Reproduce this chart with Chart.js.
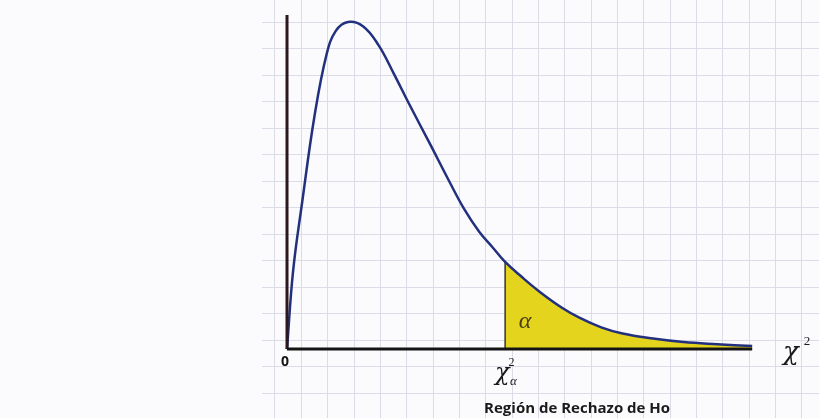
<!DOCTYPE html>
<html>
<head>
<meta charset="utf-8">
<script src="https://cdn.jsdelivr.net/npm/chart.js@4.4.1/dist/chart.umd.min.js"></script>
<style>
    html, body { margin: 0; padding: 0; background: #fbfbfd; }
    #wrap { width: 819px; height: 418px; }
</style>
</head>
<body>
<div id="wrap"><canvas id="chart" width="819" height="418"></canvas></div>
<script>
// chi-square curve (x = chi2 value, y = density)
const chiValues = [0, 0.2, 0.5, 0.9, 1.3, 1.6, 2.0, 2.5, 3.0, 3.5, 4.0, 4.7, 5.3, 5.8, 6.3, 6.75,
    7.15, 7.7, 8.3, 9.0, 9.6, 10.3, 11.0, 12.0, 13.0, 14.1, 15.25];
const density = [0, 0.044, 0.083, 0.131, 0.166, 0.179, 0.184, 0.1815, 0.171, 0.155, 0.138, 0.115, 0.095, 0.079, 0.066, 0.057,
    0.049, 0.0405, 0.032, 0.0234, 0.0175, 0.0122, 0.0087, 0.0059, 0.0039, 0.0027, 0.0017];
const criticalValue = 7.15;
const criticalDensity = 0.049;
const yAxisTop = 0.188;
const xAxisEnd = 15.25;

const curve = chiValues.map((x, i) => ({ x: x, y: density[i] }));
const rejection = curve.filter(p => p.x >= criticalValue);

// text labels, placed in data coordinates
const labels = [
    { text: '0', x: -0.066, y: -0.0073, font: 'bold 14px "Open Sans"', color: '#151515', base: 'middle' },
    { text: 'χ', x: 7.06, y: -0.0174, font: 'italic 24px "DejaVu Serif"', color: '#1a1a1a', base: 'alphabetic' },
    { text: '2', x: 7.36, y: -0.0093, font: '12px "Liberation Serif"', color: '#1a1a1a', base: 'alphabetic' },
    { text: 'α', x: 7.42, y: -0.0203, font: 'italic 13px "Liberation Serif"', color: '#1a1a1a', base: 'alphabetic' },
    { text: 'α', x: 7.80, y: 0.0118, font: 'italic 24px "Liberation Serif"', color: '#4a3f12', base: 'alphabetic' },
    { text: 'χ', x: 16.52, y: -0.0062, font: 'italic 26px "DejaVu Serif"', color: '#1a1a1a', base: 'alphabetic' },
    { text: '2', x: 17.05, y: 0.0022, font: '13px "Liberation Serif"', color: '#1a1a1a', base: 'alphabetic' },
    { text: 'Región de Rechazo de Ho', x: 9.51, y: -0.0338, font: 'bold 15px "Open Sans"', color: '#1a1a1a', base: 'middle' }
];

const textPlugin = {
    id: 'texts',
    afterDatasetsDraw(chart) {
        const ctx = chart.ctx;
        const sx = chart.scales.x, sy = chart.scales.y;
        ctx.save();
        ctx.textAlign = 'center';
        labels.forEach(l => {
            ctx.font = l.font;
            ctx.fillStyle = l.color;
            ctx.textBaseline = l.base;
            ctx.fillText(l.text, sx.getPixelForValue(l.x), sy.getPixelForValue(l.y));
        });
        ctx.restore();
    }
};

const gridStyle = { color: '#dcdce6', lineWidth: 1, drawTicks: false };

new Chart(document.getElementById('chart'), {
    type: 'line',
    data: {
        datasets: [
            { data: [{ x: 0, y: 0 }, { x: xAxisEnd, y: 0 }], borderColor: '#141414', borderWidth: 3, pointRadius: 0 },
            { data: [{ x: 0, y: 0 }, { x: 0, y: yAxisTop }], borderColor: '#2c1818', borderWidth: 3, pointRadius: 0 },
            { data: curve, borderColor: '#22307e', borderWidth: 2.5, pointRadius: 0, tension: 0.4 },
            { data: [{ x: criticalValue, y: 0 }, { x: criticalValue, y: criticalDensity }], borderColor: '#333', borderWidth: 1.5, pointRadius: 0 },
            { data: rejection, borderWidth: 0, pointRadius: 0, tension: 0.4,
              fill: 'origin', backgroundColor: '#e4d41e' }
        ]
    },
    options: {
        responsive: false,
        animation: false,
        events: [],
        layout: { padding: { left: 262, right: 0, top: 0, bottom: 0 } },
        plugins: { legend: { display: false }, tooltip: { enabled: false } },
        scales: {
            x: { type: 'linear', min: -0.82, max: 17.44, display: false },
            y: { type: 'linear', min: -0.0388, max: 0.1964, display: false },
            gx: {
                type: 'linear', axis: 'x', position: 'bottom', min: -0.493, max: 20.65,
                ticks: { display: false, stepSize: 1, includeBounds: false },
                grid: gridStyle, border: { display: false }
            },
            gy: {
                type: 'linear', axis: 'y', position: 'left', reverse: true, min: -5.849, max: 9.925,
                ticks: { display: false, stepSize: 1, includeBounds: false },
                grid: gridStyle, border: { display: false }
            }
        }
    },
    plugins: [textPlugin]
});
</script>
</body>
</html>
